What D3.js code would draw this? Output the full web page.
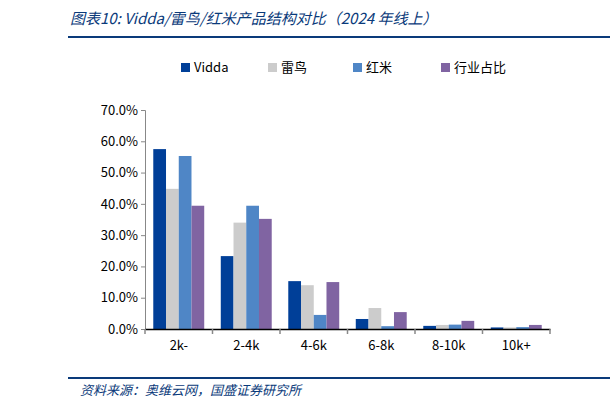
<!DOCTYPE html>
<html><head><meta charset="utf-8">
<script src="https://cdn.jsdelivr.net/npm/d3@7"></script>
<style>body{margin:0;background:#fff}text{font-family:"Noto Sans CJK SC","Liberation Sans",sans-serif}</style>
</head><body><div id="chart"></div>
<script>
const categories = ["2k-","2-4k","4-6k","6-8k","8-10k","10k+"]
const seriesNames = ["Vidda","雷鸟","红米","行业占比"]
const vidda = [57.5,23.3,15.3,3.2,1.0,0.5]
const leiniao = [44.8,34.0,14.0,6.7,1.3,0.5]
const hongmi = [55.3,39.4,4.5,0.9,1.4,0.6]
const industry = [39.4,35.2,15.0,5.4,2.6,1.3]
const yTicks = [0,10,20,30,40,50,60,70]
const colors = ["#003f98","#cccccc","#4f86c6","#8064a2"]

const w = 612, h = 411
const svg = d3.select("#chart").append("svg").attr("width", w).attr("height", h)

// title
svg.append("text").attr("x", 70).attr("y", 24).attr("font-size", 15).attr("font-style", "italic")
   .attr("fill", "#0a3a7a").text("图表10:  Vidda/雷鸟/红米产品结构对比（2024 年线上）")
svg.append("line").attr("x1", 68).attr("x2", 610).attr("y1", 37).attr("y2", 37)
   .attr("stroke", "#0a3a7a").attr("stroke-width", 2)

const x = d3.scaleBand().domain(categories).range([145, 550]).paddingInner(0).paddingOuter(0)
const xs = d3.scaleBand().domain(seriesNames).range([0, x.bandwidth()]).paddingInner(0).paddingOuter(0.65)
const y = d3.scaleLinear().domain([0, 70]).range([329, 110])

// y axis
const ya = svg.append("g").attr("transform", "translate(145,0)")
  .call(d3.axisLeft(y).tickValues(yTicks).tickFormat(d => d.toFixed(1) + "%").tickSize(4))
ya.select(".domain").attr("stroke", "#888")
ya.selectAll(".tick line").attr("stroke", "#888")
ya.selectAll("text").attr("font-size", 13).attr("fill", "#000").attr("font-family", "Liberation Sans")

const data = [vidda, leiniao, hongmi, industry]
const g = svg.selectAll("g.cat").data(categories).enter().append("g")
  .attr("transform", d => `translate(${x(d)},0)`)
g.selectAll("rect").data((c, i) => data.map((s, k) => ({name: seriesNames[k], v: s[i], k})))
  .enter().append("rect")
  .attr("x", d => xs(d.name)).attr("width", xs.bandwidth())
  .attr("y", d => y(d.v)).attr("height", d => y(0) - y(d.v))
  .attr("fill", d => colors[d.k])

// x axis
const xa = svg.append("g").attr("transform", "translate(0,329)")
  .call(d3.axisBottom(x).tickSize(0).tickPadding(12))
xa.select(".domain").attr("stroke", "#000").attr("stroke-width", 1.5)
xa.selectAll("text").attr("font-size", 13).attr("fill", "#000").attr("font-family", "Liberation Sans")
svg.selectAll("line.sep").data(d3.range(categories.length + 1)).enter().append("line")
  .attr("x1", i => 145 + i * x.bandwidth()).attr("x2", i => 145 + i * x.bandwidth())
  .attr("y1", 329).attr("y2", 334).attr("stroke", "#888").attr("stroke-width", 1.5)

// legend
const lx = [181, 268, 353, 441]
const lg = svg.selectAll("g.leg").data(seriesNames).enter().append("g")
  .attr("transform", (d, i) => `translate(${lx[i]},68)`)
lg.append("rect").attr("x", 0).attr("y", -5).attr("width", 9).attr("height", 9).attr("fill", (d, i) => colors[i])
lg.append("text").attr("x", 13).attr("y", 4).attr("font-size", 13).text(d => d)

// footer
svg.append("line").attr("x1", 68).attr("x2", 610).attr("y1", 378).attr("y2", 378)
   .attr("stroke", "#0a3a7a").attr("stroke-width", 2)
svg.append("text").attr("x", 80).attr("y", 395).attr("font-size", 13).attr("font-style", "italic")
   .attr("fill", "#0a3a7a").text("资料来源：奥维云网，国盛证券研究所")
</script></body></html>
